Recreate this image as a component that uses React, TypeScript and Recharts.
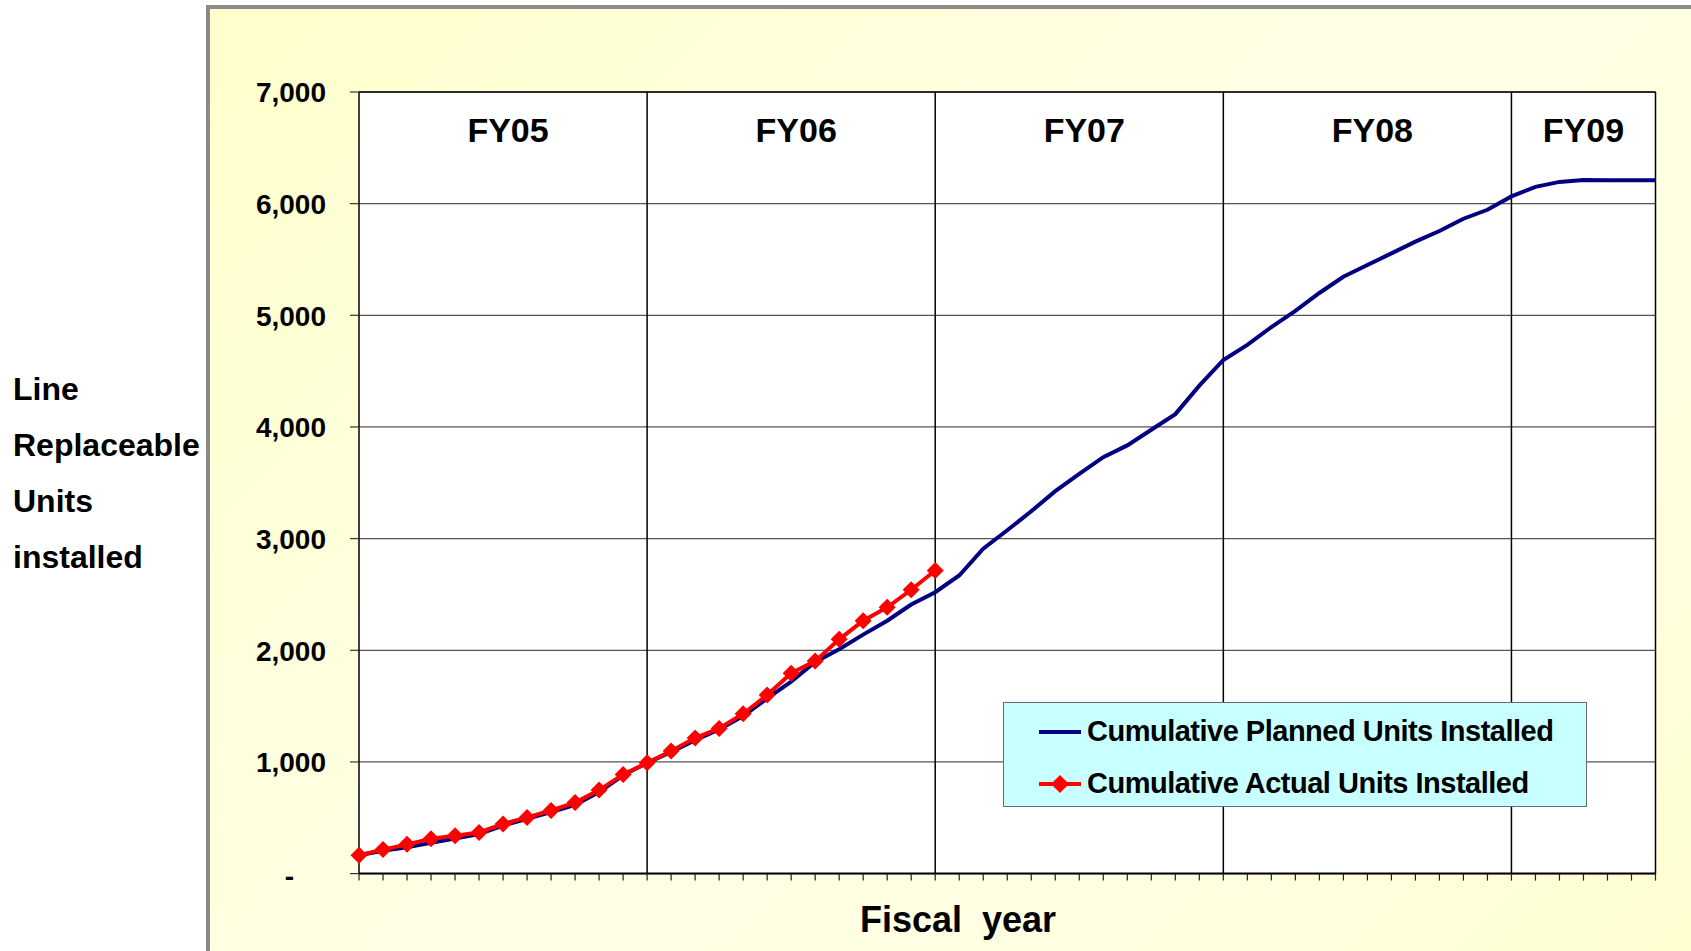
import React from "react";
import {
  LineChart,
  Line,
  XAxis,
  YAxis,
  CartesianGrid,
  ReferenceLine,
  ReferenceArea,
} from "recharts";

const FONT = '"Liberation Sans", Arial, Helvetica, sans-serif';

// fiscal years and the month index (from Oct-04) where each one starts / ends
const fiscalYears = ["FY05", "FY06", "FY07", "FY08", "FY09"];
const fyStart = [0, 12, 24, 36, 48];
const fyEnd = [12, 24, 36, 48, 54];

// cumulative planned units, one value per month
const planned = [
  165, 205, 235, 275, 315, 355, 430, 490, 550, 615, 730, 880,
  990, 1090, 1195, 1290, 1410, 1570, 1720, 1895, 2010, 2140, 2265, 2410,
  2520, 2670, 2910, 3075, 3245, 3425, 3580, 3730, 3835, 3975, 4115, 4370,
  4600, 4735, 4895, 5040, 5200, 5345, 5450, 5555, 5660, 5755, 5865, 5945,
  6065, 6150, 6195, 6212, 6210, 6210, 6210,
];

// cumulative actual units, reported up to the start of FY07
const actual = [
  165, 215, 262, 312, 338, 368, 444, 503, 565, 636, 748, 888,
  992, 1098, 1214, 1300, 1432, 1600, 1795, 1903, 2098, 2265, 2385, 2542,
  2715,
];

const yTicks = [0, 1000, 2000, 3000, 4000, 5000, 6000, 7000];

const monthTicks = planned.map((_, i) => i);
const data = planned.map((p, i) => ({
  m: i,
  planned: p,
  actual: i < actual.length ? actual[i] : null,
}));

const Diamond = (props: any) => {
  const { cx, cy, value, index } = props;
  if (cx == null || cy == null || value == null) return <g key={`d${index}`} />;
  const r = 8.5;
  return (
    <polygon
      key={`d${index}`}
      points={`${cx},${cy - r} ${cx + r},${cy} ${cx},${cy + r} ${cx - r},${cy}`}
      fill="#FF0000"
    />
  );
};

const YTick = (props: any) => {
  const { x, y, payload } = props;
  const v = payload.value as number;
  if (v === 0) {
    return (
      <text x={x - 32} y={y + 5} textAnchor="end" dominantBaseline="middle"
        fontFamily={FONT} fontWeight="bold" fontSize={28} fill="#000">
        -
      </text>
    );
  }
  return (
    <text x={x} y={y + 3} textAnchor="end" dominantBaseline="middle"
      fontFamily={FONT} fontWeight="bold" fontSize={28} fill="#000">
      {v.toLocaleString("en-US")}
    </text>
  );
};

export default function App() {
  return (
    <div style={{ position: "absolute", left: 0, top: 0, width: 1691, height: 951, overflow: "hidden", background: "#fff", fontFamily: FONT }}>
      {/* slide frame */}
      <div
        style={{
          position: "absolute",
          left: 206,
          top: 5,
          width: 1600,
          height: 1000,
          borderLeft: "4px solid #8a8a8a",
          borderTop: "4px solid #8a8a8a",
          background: "linear-gradient(135deg, #FFFFCC 0%, #FFFFE6 45%, #FFFFE2 70%, #FFFFCC 100%)",
        }}
      />

      {/* y axis title */}
      <div style={{ position: "absolute", left: 13, top: 361, fontSize: 32, fontWeight: "bold", lineHeight: "56px", color: "#000" }}>
        <div>Line</div>
        <div>Replaceable</div>
        <div>Units</div>
        <div>installed</div>
      </div>

      <div style={{ position: "absolute", left: 0, top: 0 }}>
        <LineChart
          width={1691}
          height={951}
          data={data}
          margin={{ top: 92, right: 35.5, bottom: 37.4, left: 209 }}
        >
          <CartesianGrid vertical={false} stroke="#555" strokeWidth={1.2} fill="#fff" fillOpacity={1} />
          <XAxis
            dataKey="m"
            type="number"
            domain={[0, 54]}
            ticks={monthTicks}
            interval={0}
            height={40}
            tickSize={7}
            tickFormatter={() => ""}
            axisLine={{ stroke: "#000", strokeWidth: 2 }}
            tickLine={{ stroke: "#222", strokeWidth: 1.2 }}
          />
          <YAxis
            type="number"
            domain={[0, 7000]}
            ticks={yTicks}
            interval={0}
            width={150}
            tickSize={9}
            tickMargin={24}
            tick={<YTick />}
            axisLine={{ stroke: "#000", strokeWidth: 1.5 }}
            tickLine={{ stroke: "#333", strokeWidth: 1.2 }}
          />
          {fiscalYears.map((fy, i) => (
            <ReferenceArea
              key={fy}
              x1={fyStart[i]}
              x2={fyEnd[i]}
              fill="#fff"
              fillOpacity={0}
              stroke="none"
              label={{
                value: fy,
                position: "insideTop",
                offset: 26,
                dx: i < 4 ? 5 : 0,
                fontSize: 34,
                fontWeight: "bold",
                fontFamily: FONT,
                fill: "#000",
              }}
            />
          ))}
          {fyStart.slice(1).map((m) => (
            <ReferenceLine key={m} x={m} stroke="#000" strokeWidth={1.5} />
          ))}
          <ReferenceLine x={54} stroke="#000" strokeWidth={1.5} />
          <ReferenceLine y={7000} stroke="#000" strokeWidth={1.5} />
          <Line
            type="linear"
            dataKey="planned"
            stroke="#000080"
            strokeWidth={4}
            dot={false}
            isAnimationActive={false}
          />
          <Line
            type="linear"
            dataKey="actual"
            stroke="#FF0000"
            strokeWidth={4}
            dot={<Diamond />}
            activeDot={false}
            connectNulls={false}
            isAnimationActive={false}
          />
        </LineChart>
      </div>

      {/* legend */}
      <div
        style={{
          position: "absolute",
          left: 1003,
          top: 702,
          width: 584,
          height: 105,
          boxSizing: "border-box",
          background: "#C8FFFF",
          border: "1.5px solid #6a6a6a",
          fontSize: 29,
          fontWeight: "bold",
          letterSpacing: -0.5,
          color: "#000",
        }}
      >
        <div style={{ position: "absolute", left: 35, top: 27, width: 42, height: 4, background: "#000080" }} />
        <div style={{ position: "absolute", left: 83, top: 11, lineHeight: "34px", whiteSpace: "nowrap" }}>
          Cumulative Planned Units Installed
        </div>
        <div style={{ position: "absolute", left: 35, top: 79, width: 42, height: 4, background: "#FF0000" }} />
        <svg style={{ position: "absolute", left: 47, top: 72 }} width={18} height={18}>
          <polygon points="9,0 18,9 9,18 0,9" fill="#FF0000" />
        </svg>
        <div style={{ position: "absolute", left: 83, top: 63, lineHeight: "34px", whiteSpace: "nowrap" }}>
          Cumulative Actual Units Installed
        </div>
      </div>

      {/* x axis title */}
      <div style={{ position: "absolute", left: 958, top: 920, transform: "translate(-50%, -50%)", fontSize: 36, fontWeight: "bold", whiteSpace: "pre", color: "#000" }}>
        {"Fiscal  year"}
      </div>
    </div>
  );
}
